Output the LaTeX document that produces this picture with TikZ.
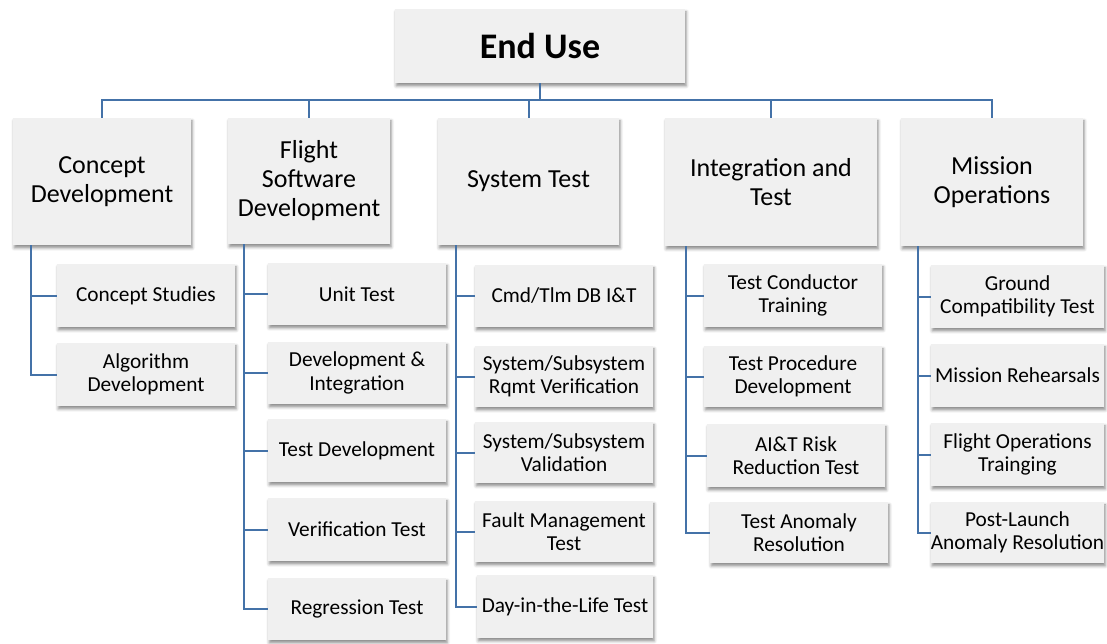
\documentclass[tikz,border=0pt]{standalone}
\usepackage{fontspec}
\setmainfont{Carlito}
\usetikzlibrary{shadows.blur}

\definecolor{boxfill}{RGB}{240,240,240}
\definecolor{linkblue}{RGB}{68,114,168}

\tikzset{
  % a box given by its corners (x1,y1,x2,y2) in pixel units
  cell/.style n args={4}{at={({(#1+#3)/2},{(#2+#4)/2})},
    minimum width={(#3-#1)*0.75pt}, minimum height={(#4-#2)*0.75pt}},
  boxbase/.style={fill=boxfill, draw=none, inner sep=0pt, align=center, text=black,
    blur shadow={shadow xshift=0.9pt, shadow yshift=-2.2pt, shadow blur radius=2.2pt, shadow opacity=45}},
  topbox/.style={boxbase, font=\fontsize{27}{30}\selectfont\bfseries},
  areabox/.style={boxbase, font=\fontsize{19.5}{21.75}\selectfont},
  taskbox/.style={boxbase, font=\fontsize{16}{17.5}\selectfont},
  link/.style={draw=linkblue, line width=1.5pt},
}

\begin{document}
\begin{tikzpicture}[x=0.75pt, y=-0.75pt]
\useasboundingbox (0,0) rectangle (1107,643);

% root
\node[topbox, cell={395}{9}{685}{83}] (eu) {End Use};

% second level
\node[areabox, cell={13}{118}{191}{245}]  (cd)  {Concept\\Development};
\node[areabox, cell={228}{118}{390}{244}] (fsw) {Flight\\Software\\Development};
\node[areabox, cell={438}{118}{619}{245}] (st)  {System Test};
\node[areabox, cell={665}{118}{877}{246}] (it)  {Integration and\\Test};
\node[areabox, cell={901}{118}{1083}{246}] (mo) {Mission\\Operations};

% concept development tasks
\node[taskbox, cell={57}{264}{235}{327}] (cs) {Concept Studies};
\node[taskbox, cell={57}{343}{235}{406}] (ad) {Algorithm\\Development};

% flight software tasks
\node[taskbox, cell={268}{263}{446}{325}] (ut) {Unit Test};
\node[taskbox, cell={268}{342}{446}{404}] (di) {Development \&\\Integration};
\node[taskbox, cell={268}{419}{446}{482}] (td) {Test Development};
\node[taskbox, cell={268}{498}{446}{561}] (vt) {Verification Test};
\node[taskbox, cell={268}{578}{446}{640}] (rt) {Regression Test};

% system test tasks
\node[taskbox, cell={475}{265}{653}{327}] (ct) {Cmd/Tlm DB I\&T};
\node[taskbox, cell={475}{346}{653}{407}] (rv) {System/Subsystem\\Rqmt Verification};
\node[taskbox, cell={475}{422}{653}{483}] (sv) {System/Subsystem\\Validation};
\node[taskbox, cell={475}{501}{653}{562}] (fm) {Fault Management\\Test};
\node[taskbox, cell={477}{575}{653}{638}] (dl) {Day-in-the-Life Test};

% integration and test tasks
\node[taskbox, cell={704}{264}{882}{327}] (tc) {Test Conductor\\Training};
\node[taskbox, cell={704}{346}{882}{407}] (tp) {Test Procedure\\Development};
\node[taskbox, cell={707}{424}{885}{487}] (ai) {AI\&T Risk\\Reduction Test};
\node[taskbox, cell={710}{502}{888}{563}] (ta) {Test Anomaly\\Resolution};

% mission operations tasks
\node[taskbox, cell={931}{265}{1104}{328}] (gc) {Ground\\Compatibility Test};
\node[taskbox, cell={931}{344}{1104}{407}] (mr) {Mission Rehearsals};
\node[taskbox, cell={931}{423}{1104}{486}] (fo) {Flight Operations\\Trainging};
\node[taskbox, cell={931}{502}{1104}{563}] (pl) {Post-Launch\\Anomaly Resolution};

% top-level bus
\coordinate (bus) at (540,100);
\draw[link] (eu.south) -- (bus);
\draw[link] (cd.north) |- (bus) -| (mo.north);
\draw[link] (fsw.north) -- (fsw.north |- bus);
\draw[link] (st.north) -- (st.north |- bus);
\draw[link] (it.north) -- (it.north |- bus);

% branch spines under each area
\coordinate (cdx)  at (31,245);
\coordinate (fswx) at (244,244);
\coordinate (stx)  at (456,245);
\coordinate (itx)  at (686,246);
\coordinate (mox)  at (918,246);

\foreach \k in {cs,ad} \draw[link] (cdx) |- (\k.west);
\foreach \k in {ut,di,td,vt,rt} \draw[link] (fswx) |- (\k.west);
\foreach \k in {ct,rv,sv,fm,dl} \draw[link] (stx) |- (\k.west);
\foreach \k in {tc,tp,ai,ta} \draw[link] (itx) |- (\k.west);
\foreach \k in {gc,mr,fo,pl} \draw[link] (mox) |- (\k.west);
\end{tikzpicture}
\end{document}
